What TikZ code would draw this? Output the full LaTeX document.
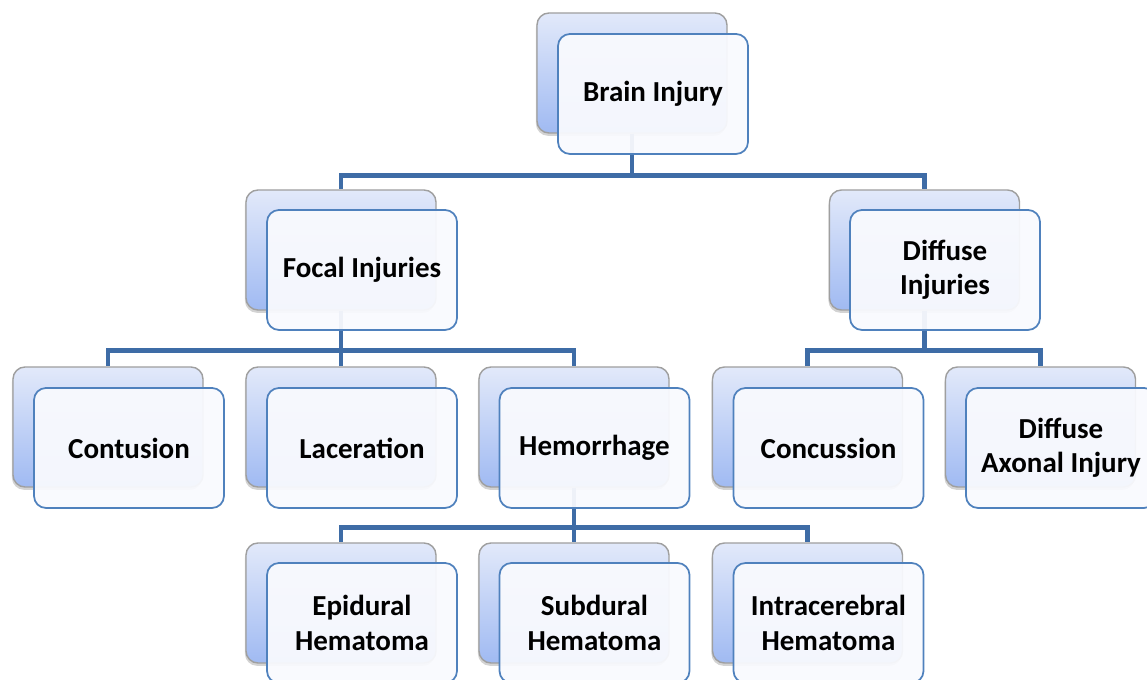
\documentclass[tikz,border=0pt]{standalone}
\usepackage{fontspec}
\setmainfont{Carlito}
\usetikzlibrary{shadows}

\definecolor{busblue}{RGB}{62,108,166}
\definecolor{edgeblue}{RGB}{79,129,189}
\definecolor{frontfill}{RGB}{249,250,254}
\definecolor{backtop}{RGB}{226,233,250}
\definecolor{backbot}{RGB}{160,186,242}

\tikzset{
	backbox/.style={draw=gray!75, line width=0.8pt, rounded corners=0.24cm,
		minimum width=3.8cm, minimum height=2.4cm,
		top color=backtop, bottom color=backbot,
		drop shadow={shadow xshift=-0.6pt, shadow yshift=-1.6pt, opacity=0.35}},
	frontbox/.style={draw=edgeblue, line width=1pt, rounded corners=0.24cm,
		fill=frontfill, fill opacity=0.94, text opacity=1,
		minimum width=3.8cm, minimum height=2.4cm, align=center,
		font=\fontsize{16.5}{19.5}\selectfont\bfseries},
	bus/.style={draw=busblue, line width=2.8pt}
}

\begin{document}
\begin{tikzpicture}
	\useasboundingbox (0,0) rectangle (22.94,13.6);
	\clip (0,0) rectangle (22.94,13.6);

	% back boxes
	\node[backbox] (bBrain) at (12.64,12.14) {};
	\node[backbox] (bFocal) at (6.82,8.6) {};
	\node[backbox] (bDiffuse) at (18.49,8.6) {};
	\node[backbox] (bContusion) at (2.16,5.06) {};
	\node[backbox] (bLaceration) at (6.82,5.06) {};
	\node[backbox] (bHemorrhage) at (11.48,5.06) {};
	\node[backbox] (bConcussion) at (16.15,5.06) {};
	\node[backbox] (bAxonal) at (20.81,5.06) {};
	\node[backbox] (bEpidural) at (6.82,1.54) {};
	\node[backbox] (bSubdural) at (11.48,1.54) {};
	\node[backbox] (bIntracerebral) at (16.15,1.54) {};

	% connectors
	\draw[bus] (bBrain.south) -- ++(0,-0.84) -| (bFocal.north);
	\draw[bus] (bBrain.south) -- ++(0,-0.84) -| (bDiffuse.north);
	\draw[bus] (bFocal.south) -- ++(0,-0.8) -| (bContusion.north);
	\draw[bus] (bFocal.south) -- ++(0,-0.8) -| (bLaceration.north);
	\draw[bus] (bFocal.south) -- ++(0,-0.8) -| (bHemorrhage.north);
	\draw[bus] (bDiffuse.south) -- ++(0,-0.8) -| (bConcussion.north);
	\draw[bus] (bDiffuse.south) -- ++(0,-0.8) -| (bAxonal.north);
	\draw[bus] (bHemorrhage.south) -- ++(0,-0.8) -| (bEpidural.north);
	\draw[bus] (bHemorrhage.south) -- ++(0,-0.8) -| (bSubdural.north);
	\draw[bus] (bHemorrhage.south) -- ++(0,-0.8) -| (bIntracerebral.north);

	% front boxes
	\node[frontbox] (Brain) at (13.06,11.72) {Brain Injury};
	\node[frontbox] (Focal) at (7.24,8.2) {Focal Injuries};
	\node[frontbox] (Diffuse) at (18.9,8.2) {Diffuse\\Injuries};
	\node[frontbox] (Contusion) at (2.58,4.64) {Contusion};
	\node[frontbox] (Laceration) at (7.24,4.64) {Laceration};
	\node[frontbox] (Hemorrhage) at (11.89,4.64) {Hemorrhage};
	\node[frontbox] (Concussion) at (16.57,4.64) {Concussion};
	\node[frontbox] (Axonal) at (21.22,4.64) {Diffuse\\Axonal Injury};
	\node[frontbox] (Epidural) at (7.24,1.14) {Epidural\\Hematoma};
	\node[frontbox] (Subdural) at (11.89,1.14) {Subdural\\Hematoma};
	\node[frontbox] (Intracerebral) at (16.57,1.14) {Intracerebral\\Hematoma};
\end{tikzpicture}
\end{document}
